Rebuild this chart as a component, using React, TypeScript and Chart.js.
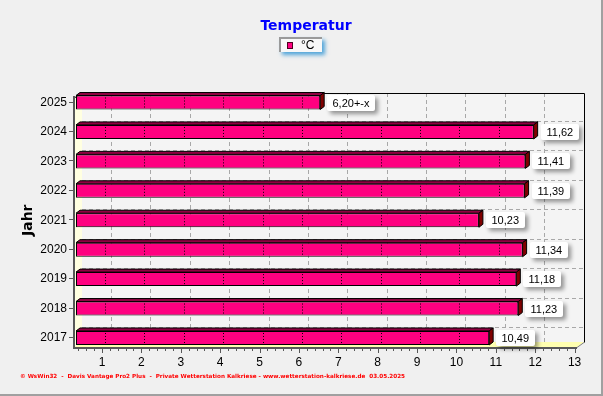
import React, { useEffect, useRef } from 'react';
import { Chart, registerables } from 'chart.js';

Chart.register(...registerables);

const chartTitle = 'Temperatur';
const seriesName = '°C';
const yAxisTitle = 'Jahr';
const years = ['2025', '2024', '2023', '2022', '2021', '2020', '2019', '2018', '2017'];
const temperatures = [6.2, 11.62, 11.41, 11.39, 10.23, 11.34, 11.18, 11.23, 10.49];
const labelSuffixes = ['+-x', '', '', '', '', '', '', '', ''];
const xMin = 0;
const xMax = 13;
const footerText =
  '© WsWin32  -  Davis Vantage Pro2 Plus  -  Private Wetterstation Kalkriese - www.wetterstation-kalkriese.de  03.05.2025';

const BAR_COLOR = '#ff0080';
const BAR_SIDE = '#800000';
const BAR_TOP = '#900040';
const TICK_SHIFT = -13.4;

function fmt(v: number) {
  return v.toFixed(2).replace('.', ',');
}

const decorPlugin = {
  id: 'decor',
  beforeDraw(chart: any) {
    const { ctx, chartArea: ca, scales } = chart;
    const W = chart.width;
    const H = chart.height;
    const xs = scales.x;
    const ys = scales.y;
    ctx.save();
    // page background and frame
    ctx.fillStyle = '#f0f0f0';
    ctx.fillRect(0, 0, W, H);
    ctx.fillStyle = '#a0a0a0';
    ctx.fillRect(W - 2, 0, 2, H);
    ctx.fillRect(0, H - 2, W, 2);

    // title
    ctx.font = 'bold 14px "DejaVu Sans"';
    ctx.fillStyle = '#0000ff';
    ctx.textAlign = 'center';
    ctx.textBaseline = 'middle';
    ctx.fillText(chartTitle, 306, 26);

    // legend box
    ctx.save();
    ctx.shadowColor = 'rgba(30,140,210,0.75)';
    ctx.shadowBlur = 4;
    ctx.shadowOffsetX = 3;
    ctx.shadowOffsetY = 3;
    ctx.fillStyle = '#f8f8f8';
    ctx.fillRect(279, 37, 43, 15);
    ctx.restore();
    ctx.strokeStyle = '#9a9a9a';
    ctx.lineWidth = 2;
    ctx.beginPath();
    ctx.moveTo(280, 52);
    ctx.lineTo(280, 38);
    ctx.lineTo(322, 38);
    ctx.stroke();
    ctx.fillStyle = BAR_COLOR;
    ctx.fillRect(287, 42, 6, 7);
    ctx.strokeStyle = '#500020';
    ctx.lineWidth = 1;
    ctx.strokeRect(287.5, 42.5, 5, 6);
    ctx.fillStyle = '#000';
    ctx.font = '12px "Liberation Sans"';
    ctx.textAlign = 'left';
    ctx.fillText(seriesName, 301, 46);

    // footer
    let fs = 10;
    ctx.font = `bold ${fs}px "DejaVu Sans"`;
    const wTarget = 386;
    fs = (fs * wTarget) / ctx.measureText(footerText).width;
    ctx.font = `bold ${fs.toFixed(2)}px "DejaVu Sans"`;
    ctx.fillStyle = '#ff0000';
    ctx.textAlign = 'left';
    ctx.textBaseline = 'middle';
    ctx.fillText(footerText, 20, 376.5);

    // 3D box
    const wl = ca.left + 6;
    const wr = ca.right - 4;
    const wt = Math.round(ca.top + 5.2);
    const wb = Math.round(ca.bottom - 10.7);
    const fl = ca.left - 1;
    const fb = Math.round(ca.bottom - 5.7);

    ctx.fillStyle = '#f4f4f4';
    ctx.fillRect(wl, wt, wr - wl, wb - wt);

    // dashed grid lines on back wall
    ctx.strokeStyle = '#a8a8a8';
    ctx.lineWidth = 1;
    ctx.setLineDash([4, 3]);
    for (let n = 1; n < xMax; n++) {
      const px = Math.round(xs.getPixelForValue(n) - 4.4) + 0.5;
      ctx.beginPath();
      ctx.moveTo(px, wt);
      ctx.lineTo(px, wb);
      ctx.stroke();
    }
    for (let i = 1; i < years.length; i++) {
      const py = Math.round(ys.getPixelForValue(i) - 11) + 0.5;
      ctx.beginPath();
      ctx.moveTo(wl, py);
      ctx.lineTo(wr, py);
      ctx.stroke();
    }
    ctx.setLineDash([]);

    // left side wall
    ctx.fillStyle = '#ffffe0';
    ctx.beginPath();
    ctx.moveTo(fl, wt + 4);
    ctx.lineTo(wl, wt);
    ctx.lineTo(wl, wb);
    ctx.lineTo(fl, fb);
    ctx.closePath();
    ctx.fill();

    // floor
    ctx.fillStyle = '#ffffb0';
    ctx.beginPath();
    ctx.moveTo(fl, fb);
    ctx.lineTo(wl, wb);
    ctx.lineTo(wr, wb);
    ctx.lineTo(wr - 7, fb);
    ctx.closePath();
    ctx.fill();
    ctx.strokeStyle = '#808080';
    ctx.beginPath();
    ctx.moveTo(wr - 7, fb + 0.5);
    ctx.lineTo(wr, wb + 0.5);
    ctx.stroke();

    // wall borders
    ctx.strokeStyle = '#000';
    ctx.lineWidth = 1;
    ctx.beginPath();
    ctx.moveTo(fl, wt + 4.5);
    ctx.lineTo(wl, wt + 0.5);
    ctx.lineTo(wr + 0.5, wt + 0.5);
    ctx.lineTo(wr + 0.5, wb + 0.5);
    ctx.stroke();
    ctx.restore();
  },
  beforeDatasetsDraw(chart: any) {
    const { ctx } = chart;
    const meta = chart.getDatasetMeta(0);
    ctx.save();
    const d = 4;
    const dy = 3;
    meta.data.forEach((bar: any) => {
      const p = bar.getProps(['x', 'y', 'base', 'height'], true);
      const left = p.base;
      const right = p.x;
      const top = p.y - p.height / 2;
      const bottom = p.y + p.height / 2;
      ctx.lineWidth = 1;
      ctx.strokeStyle = '#000';
      ctx.fillStyle = BAR_TOP;
      ctx.beginPath();
      ctx.moveTo(left, top);
      ctx.lineTo(left + d, top - dy);
      ctx.lineTo(right + d, top - dy);
      ctx.lineTo(right, top);
      ctx.closePath();
      ctx.fill();
      ctx.stroke();
      ctx.fillStyle = BAR_SIDE;
      ctx.beginPath();
      ctx.moveTo(right, top);
      ctx.lineTo(right + d, top - dy);
      ctx.lineTo(right + d, bottom - dy);
      ctx.lineTo(right, bottom);
      ctx.closePath();
      ctx.fill();
      ctx.stroke();
    });
    ctx.restore();
  },
  afterDatasetsDraw(chart: any) {
    const { ctx, chartArea: ca, scales } = chart;
    const xs = scales.x;
    const ys = scales.y;
    const meta = chart.getDatasetMeta(0);
    ctx.save();
    // dotted lines on bar faces
    ctx.strokeStyle = '#000';
    ctx.lineWidth = 1;
    ctx.setLineDash([1, 2]);
    meta.data.forEach((bar: any) => {
      const p = bar.getProps(['x', 'y', 'base', 'height'], true);
      const top = p.y - p.height / 2;
      const bottom = p.y + p.height / 2;
      for (let n = 1; n <= xMax; n++) {
        const px = Math.round(xs.getPixelForValue(n) - 10.4) + 0.5;
        if (px > p.x - 3) break;
        ctx.beginPath();
        ctx.moveTo(px, top + 2);
        ctx.lineTo(px, bottom - 1);
        ctx.stroke();
      }
    });
    ctx.setLineDash([]);

    // axis lines
    const fb = Math.round(ca.bottom - 5.7);
    const wt = Math.round(ca.top + 5.2);
    const axX = ca.left - 2;
    ctx.strokeStyle = '#585858';
    ctx.lineWidth = 2;
    ctx.beginPath();
    ctx.moveTo(axX, wt + 3);
    ctx.lineTo(axX, fb + 1);
    ctx.lineTo(ca.right - 11, fb + 1);
    ctx.stroke();
    ctx.lineWidth = 1;
    // y ticks
    for (let i = 0; i < years.length; i++) {
      const py = Math.round(ys.getPixelForValue(i)) - 0.5;
      ctx.beginPath();
      ctx.moveTo(axX - 5, py);
      ctx.lineTo(axX, py);
      ctx.stroke();
    }
    // x ticks (major + minor)
    for (let k = 2; k <= xMax * 5; k++) {
      const v = k / 5;
      const px = Math.round(xs.getPixelForValue(v) + TICK_SHIFT) + 0.5;
      if (px > ca.right - 11) break;
      const major = k % 5 === 0;
      ctx.beginPath();
      ctx.moveTo(px, fb + 2);
      ctx.lineTo(px, fb + (major ? 6 : 4));
      ctx.stroke();
    }

    // value labels
    ctx.font = '11px "Liberation Sans"';
    ctx.textBaseline = 'middle';
    ctx.textAlign = 'left';
    meta.data.forEach((bar: any, i: number) => {
      const p = bar.getProps(['x', 'y'], true);
      const txt = fmt(temperatures[i]) + labelSuffixes[i];
      const tw = ctx.measureText(txt).width;
      const bx = Math.round(p.x + 7);
      const by = Math.round(p.y - 8);
      const bw = Math.round(tw + 11);
      const bh = 16;
      ctx.save();
      ctx.shadowColor = 'rgba(0,0,0,0.4)';
      ctx.shadowBlur = 4;
      ctx.shadowOffsetX = 3;
      ctx.shadowOffsetY = 3;
      ctx.fillStyle = '#ffffff';
      ctx.beginPath();
      ctx.roundRect(bx, by, bw, bh, 2);
      ctx.fill();
      ctx.restore();
      ctx.fillStyle = '#000';
      ctx.fillText(txt, bx + 5.5, by + bh / 2 + 0.5);
    });
    ctx.restore();
  },
};

export default function App() {
  const ref = useRef<HTMLCanvasElement | null>(null);
  useEffect(() => {
    if (!ref.current) return;
    const chart = new Chart(ref.current, {
      type: 'bar',
      data: {
        labels: years,
        datasets: [
          {
            label: seriesName,
            data: temperatures,
            backgroundColor: BAR_COLOR,
            borderColor: '#000000',
            borderWidth: 1,
            borderSkipped: false,
            barPercentage: 0.476,
            categoryPercentage: 1,
          },
        ],
      },
      options: {
        indexAxis: 'y',
        animation: false,
        responsive: false,
        devicePixelRatio: 1,
        layout: { padding: { top: 87.8, bottom: 13.3, left: 0, right: 15 } },
        plugins: {
          legend: { display: false },
          title: { display: false },
          tooltip: { enabled: false },
        },
        scales: {
          x: {
            type: 'linear',
            min: xMin,
            max: xMax,
            grid: { display: false, drawTicks: false },
            border: { display: false },
            afterFit: (s: any) => {
              s.height = 30;
            },
            ticks: {
              stepSize: 1,
              autoSkip: false,
              maxRotation: 0,
              labelOffset: TICK_SHIFT,
              padding: 3,
              color: '#000000',
              font: { family: '"Liberation Sans"', size: 12 },
              callback: (v: any) => (v === 0 ? '' : String(v)),
            },
          },
          y: {
            type: 'category',
            offset: true,
            grid: { display: false, drawTicks: false },
            border: { display: false },
            afterFit: (s: any) => {
              s.width = 76;
            },
            ticks: {
              padding: 9,
              color: '#000000',
              font: { family: '"Liberation Sans"', size: 12 },
            },
            title: {
              display: true,
              text: yAxisTitle,
              color: '#000000',
              font: { family: '"DejaVu Sans"', size: 14, weight: 'bold' },
              padding: { top: 20, bottom: 0 },
            },
          },
        },
      },
      plugins: [decorPlugin],
    } as any);
    return () => chart.destroy();
  }, []);
  return (
    <div style={{ position: 'absolute', left: 0, top: 0, width: 603, height: 396 }}>
      <canvas ref={ref} width={603} height={396} style={{ display: 'block' }} />
    </div>
  );
}
